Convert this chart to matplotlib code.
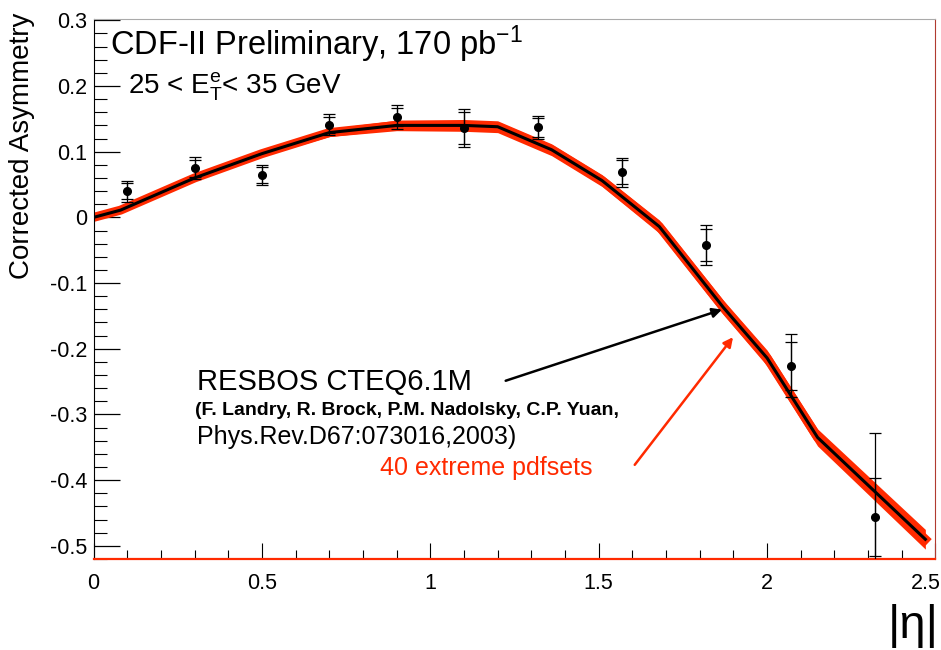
import matplotlib
matplotlib.use('Agg')
import matplotlib.pyplot as plt
import matplotlib.transforms as mtransforms
import numpy as np
from matplotlib.ticker import MultipleLocator, FixedLocator

plt.rcParams['font.family'] = ['Liberation Sans', 'DejaVu Sans']
plt.rcParams['mathtext.fontset'] = 'custom'
plt.rcParams['mathtext.rm'] = 'Liberation Sans'
plt.rcParams['mathtext.it'] = 'Liberation Sans'

# measured asymmetry
eta = [0.10, 0.30, 0.50, 0.70, 0.90, 1.10, 1.32, 1.57, 1.82, 2.07, 2.32]
asym = [0.040, 0.075, 0.065, 0.141, 0.153, 0.136, 0.137, 0.069, -0.042, -0.226, -0.456]
err_stat = [0.012, 0.013, 0.012, 0.012, 0.014, 0.024, 0.014, 0.018, 0.024, 0.036, 0.060]
err_tot = [0.016, 0.017, 0.015, 0.016, 0.018, 0.029, 0.018, 0.022, 0.030, 0.048, 0.128]

# RESBOS CTEQ6.1M prediction and spread of the 40 extreme pdf sets
theory_eta = [0, 0.08, 0.3, 0.5, 0.7, 0.9, 1.1, 1.2, 1.36, 1.51, 1.68, 1.87, 2.0, 2.15, 2.47]
theory_asym = [0, 0.011, 0.060, 0.097, 0.129, 0.140, 0.140, 0.138, 0.103, 0.056, -0.014,
               -0.137, -0.214, -0.335, -0.490]
pdf_spread = [0, 0.002, 0.003, 0.004, 0.006, 0.008, 0.009, 0.009, 0.009, 0.009, 0.010,
              0.011, 0.012, 0.013, 0.015]

xticks = [0, 0.5, 1, 1.5, 2, 2.5]
xticklabels = ['0', '0.5', '1', '1.5', '2', '2.5']
yticks = [-0.5, -0.4, -0.3, -0.2, -0.1, 0, 0.1, 0.2, 0.3]
yticklabels = ['-0.5', '-0.4', '-0.3', '-0.2', '-0.1', '0', '0.1', '0.2', '0.3']

red = '#ff2a00'

fig = plt.figure(figsize=(9.41, 6.5), dpi=100)
ax = fig.add_axes([0.0994, 0.140, 0.8947, 0.8308])

ty = np.array(theory_asym)
sp = np.array(pdf_spread)
ax.fill_between(theory_eta, ty - sp, ty + sp, color=red, lw=0, zorder=2)
ax.plot(theory_eta, theory_asym, color=red, lw=6.5, zorder=2)
ax.plot(theory_eta, theory_asym, color='black', lw=2.2, zorder=3)

ax.errorbar(eta, asym, yerr=err_tot, fmt='none', ecolor='black', elinewidth=0.9,
            capsize=4, capthick=0.9, zorder=4)
ax.errorbar(eta, asym, yerr=err_stat, fmt='o', color='black', ms=5.5, ecolor='black',
            elinewidth=0.9, capsize=4, capthick=0.9, zorder=5)

ax.set_xlim(0, 2.5)
ax.set_ylim(-0.52, 0.302)

ax.xaxis.set_major_locator(FixedLocator(xticks))
ax.xaxis.set_minor_locator(MultipleLocator(0.1))
ax.yaxis.set_major_locator(FixedLocator(yticks))
ax.yaxis.set_minor_locator(MultipleLocator(0.02))
ax.set_xticklabels(xticklabels)
ax.set_yticklabels(yticklabels)
ax.tick_params(axis='x', which='major', direction='in', length=11.5, width=0.8, labelsize=15.5, pad=10)
ax.tick_params(axis='x', which='minor', direction='in', length=6.5, width=0.8)
ax.tick_params(axis='y', which='major', direction='in', length=18.5, width=0.9, labelsize=15.5, pad=4.5)
ax.tick_params(axis='y', which='minor', direction='in', length=9.5, width=0.8)

# keep the last x label inside the canvas
last = ax.get_xticklabels()[-1]
last.set_transform(last.get_transform() + mtransforms.ScaledTranslation(-0.1, 0, fig.dpi_scale_trans))

ax.spines['bottom'].set_color(red)
ax.spines['bottom'].set_linewidth(1.6)
ax.spines['right'].set_color('#b03a30')
ax.spines['top'].set_color('#aaaaaa')
ax.spines['left'].set_color('black')

fig.text(0.023, 0.98, 'Corrected Asymmetry', rotation=90, ha='center', va='top', fontsize=20)
fig.text(0.998, 0.018, '|η|', fontsize=34, ha='right', va='baseline')

ax.text(0.049, 0.247, 'CDF-II Preliminary, 170 pb$^{-1}$', fontsize=23.5, va='baseline')
ax.text(0.102, 0.189, '25 < E$_{T}^{e}$< 35 GeV', fontsize=20, va='baseline')
ax.text(0.307, -0.263, 'RESBOS CTEQ6.1M', fontsize=21, va='baseline')
ax.text(0.301, -0.301, '(F. Landry, R. Brock, P.M. Nadolsky, C.P. Yuan,', fontsize=14,
        fontweight='bold', va='baseline')
ax.text(0.307, -0.345, 'Phys.Rev.D67:073016,2003)', fontsize=18, va='baseline')
ax.text(0.850, -0.392, '40 extreme pdfsets', fontsize=18, color=red, va='baseline')

ax.annotate('', xy=(1.874, -0.139), xytext=(1.216, -0.250),
            arrowprops=dict(arrowstyle='-|>', color='black', lw=1.8, mutation_scale=14))
ax.annotate('', xy=(1.904, -0.179), xytext=(1.602, -0.380),
            arrowprops=dict(arrowstyle='-|>', color=red, lw=1.8, mutation_scale=14))

fig.savefig('out.png', dpi=100)
